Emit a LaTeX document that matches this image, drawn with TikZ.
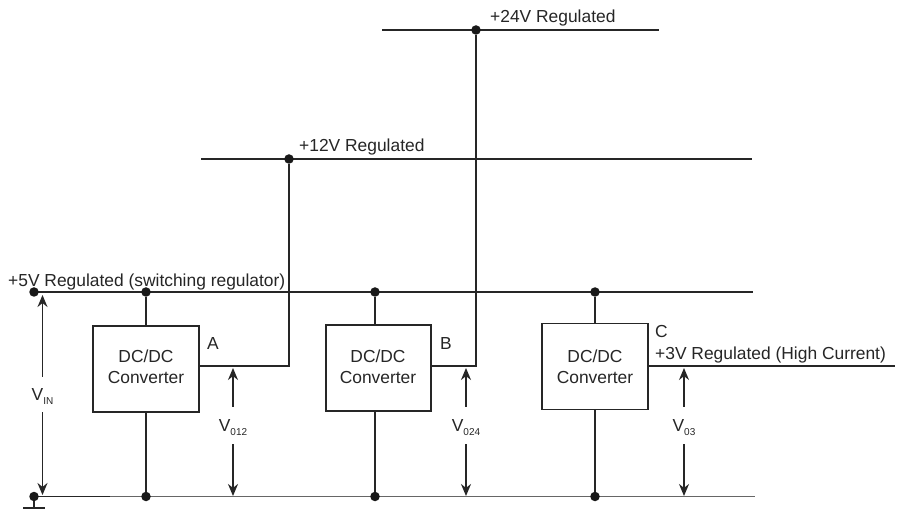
\documentclass[tikz,border=0pt]{standalone}
\usepackage{fontspec}
\setmainfont{Liberation Sans}
\usetikzlibrary{arrows.meta}
\tikzset{x=1pt,y=-1pt,
 wire/.style={line width=1.7pt,black!85},
 gnd/.style={line width=1.3pt,black!60},
 dotn/.style={circle,fill=black!90,inner sep=0pt,minimum size=9.5pt},
 conv/.style={draw,line width=1.5pt,black!85,inner sep=0pt,minimum width=106pt,minimum height=86pt},
 lbl/.style={font=\fontsize{17.4}{21}\selectfont,inner sep=0pt,text=black!85,align=center},
 vlbl/.style={lbl,minimum height=37pt},
 volt/.style={line width=1.3pt,black!85,-{Stealth[length=12pt,width=10pt]}}}
\newcommand{\vlab}[1]{\raisebox{0pt}[12pt][0pt]{V\raisebox{-0.45ex}{\fontsize{10}{11}\selectfont #1}}}
\begin{document}
\begin{tikzpicture}
\useasboundingbox (0,0) rectangle (900,510);
\fill[white] (0,0) rectangle (900,510);
\coordinate (e5) at (753,292);
\coordinate (e0) at (755,496.5);
\coordinate (m0) at (110,496.5);
\coordinate (l12) at (201,159);
\coordinate (r12) at (752,159);
\coordinate (l24) at (382,30);
\coordinate (r24) at (659,30);
\coordinate (c12) at (289,366);
\coordinate (c24) at (476,366);
\coordinate (e3) at (895,366);
\coordinate (t1) at (34,508);
\coordinate (t1l) at (23,508);
\coordinate (t1r) at (45,508);
\node[conv] (A) at (146,369) {};
\node[conv,minimum width=105pt] (B) at (378.5,368) {};
\node[conv] (C) at (595,366.5) {};
\node[lbl] (ta) at (146,366.5) {DC/DC\\Converter};
\node[lbl] (tb) at (378,366.5) {DC/DC\\Converter};
\node[lbl] (tc) at (595,366.5) {DC/DC\\Converter};
\draw[gnd] (34,496.5) -- (e0);
\draw[wire] (34,292) -- (e5);
\draw[wire] (34,496.5) -- (m0);
\draw[wire] (l12) -- (r12);
\draw[wire] (l24) -- (r24);
\node[dotn] (d5) at (34,292) {};
\node[dotn] (g0) at (34,496.5) {};
\node[dotn] (d1) at (146,292) {};
\node[dotn] (d2) at (375,292) {};
\node[dotn] (d3) at (595,292) {};
\node[dotn] (g1) at (146,496.5) {};
\node[dotn] (g2) at (375,496.5) {};
\node[dotn] (g3) at (595,496.5) {};
\node[dotn] (d12) at (289,159) {};
\node[dotn] (d24) at (476,30) {};
\draw[wire] (d1) -- (A.north) (A.south) -- (g1);
\draw[wire] (d2) -- (d2|-B.north) (d2|-B.south) -- (g2);
\draw[wire] (d3) -- (C.north) (C.south) -- (g3);
\draw[wire] (A.east|-c12) -- (c12) -- (d12);
\draw[wire] (B.east|-c24) -- (c24) -- (d24);
\draw[wire] (C.east|-e3) -- (e3);
\draw[line width=1.3pt,black!85] (g0) -- (t1);
\draw[line width=1.6pt,black!85] (t1l) -- (t1r);
\node[lbl,anchor=west] (n24) at (490,18) {+24V Regulated};
\node[lbl,anchor=west] (n12) at (299,147) {+12V Regulated};
\node[lbl,anchor=west] (n5) at (8,282) {+5V Regulated (switching regulator)};
\node[lbl,anchor=west] (n3) at (655,355) {+3V Regulated (High Current)};
\node[lbl] (A1) at (213,344) {A};
\node[lbl] (B1) at (446,344) {B};
\node[lbl,anchor=west] (C1) at (655,332) {C};
\node[lbl,minimum height=35pt] (vin) at (42.5,394.5) {\vlab{IN}};
\node[vlbl] (v12) at (233,425.5) {\vlab{012}};
\node[vlbl] (v24) at (466,425.5) {\vlab{024}};
\node[vlbl] (v3) at (684,425.5) {\vlab{03}};
\coordinate (vinT) at (42.5,295);
\coordinate (vinB) at (42.5,495);
\coordinate (v12T) at (233,368);
\coordinate (v12B) at (233,496);
\coordinate (v24T) at (466,368);
\coordinate (v24B) at (466,496);
\coordinate (v3T) at (684,368);
\coordinate (v3B) at (684,496);
\draw[volt] (vin.north) -- (vinT);
\draw[volt] (vin.south) -- (vinB);
\draw[volt] (v12.north) -- (v12T);
\draw[volt] (v12.south) -- (v12B);
\draw[volt] (v24.north) -- (v24T);
\draw[volt] (v24.south) -- (v24B);
\draw[volt] (v3.north) -- (v3T);
\draw[volt] (v3.south) -- (v3B);
\end{tikzpicture}
\end{document}
